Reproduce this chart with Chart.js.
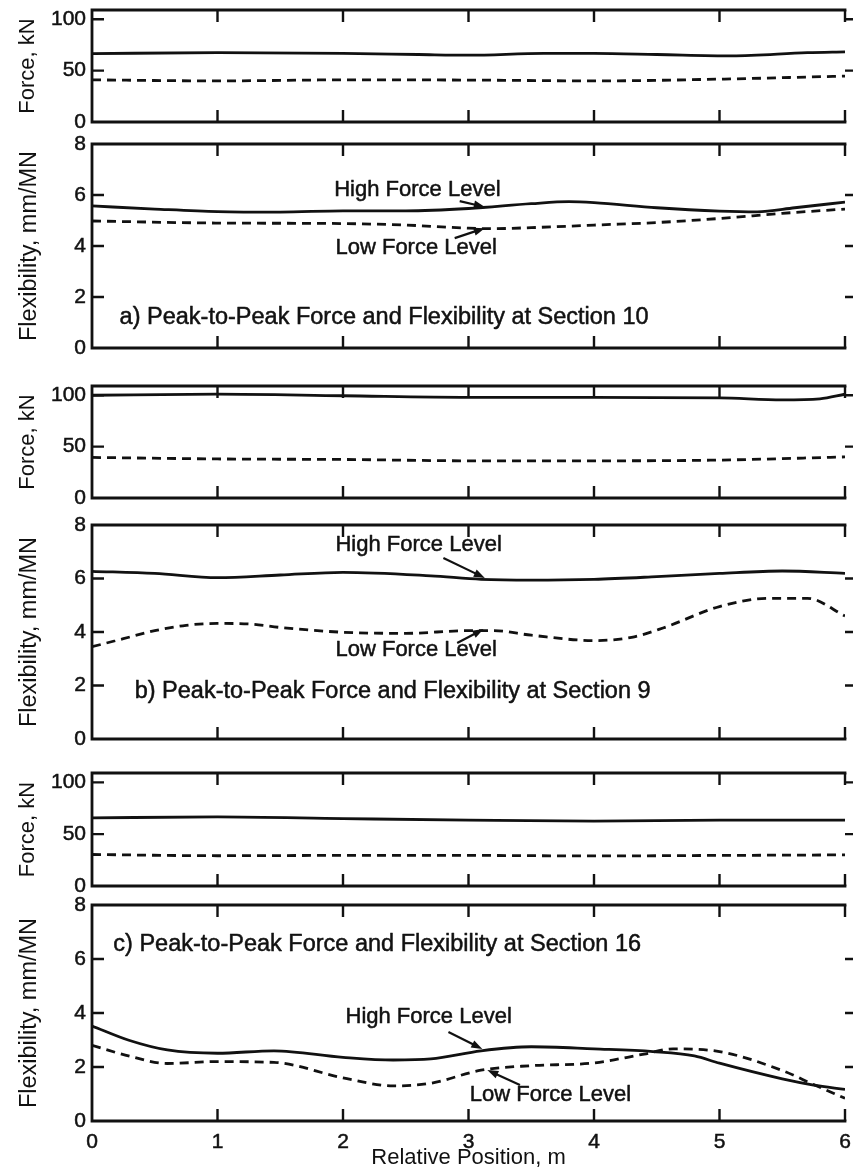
<!DOCTYPE html>
<html>
<head>
<meta charset="utf-8">
<script src="https://cdn.jsdelivr.net/npm/chart.js@4/dist/chart.umd.min.js"></script>
<style>
  html, body { margin: 0; padding: 0; background: #fff; }
  #wrap { position: relative; width: 853px; height: 1171px; overflow: hidden; background: #fff; }
  #wrap canvas { position: absolute; left: 0; }
</style>
</head>
<body>
<div id="wrap"></div>
<script>
// ---- tick values ----
const positionTicks = [0, 1, 2, 3, 4, 5, 6];
const forceTicks = [0, 50, 100];
const flexTicks = [0, 2, 4, 6, 8];

// ---- a) Section 10 ----
const posForceHighA = [0, 1, 2, 2.6, 3, 3.6, 4, 4.5, 5.1, 5.7, 6];
const forceHighA    = [66.5, 67.5, 66.8, 65.7, 65, 66.8, 66.7, 65.7, 64.4, 67.5, 68.3];
const posForceLowA  = [0, 1, 2, 3, 4, 5, 6];
const forceLowA     = [41, 40, 41, 40.8, 40, 41.7, 44.7];
const posFlexHighA  = [0, 0.5, 1, 1.5, 2, 2.5, 3, 3.5, 3.8, 4, 4.5, 5, 5.3, 5.6, 6];
const flexHighA     = [5.57, 5.45, 5.35, 5.33, 5.38, 5.38, 5.47, 5.66, 5.74, 5.7, 5.5, 5.37, 5.34, 5.5, 5.72];
const posFlexLowA   = [0, 1, 2, 2.5, 3, 3.2, 3.5, 4, 4.5, 5, 5.5, 6];
const flexLowA      = [4.98, 4.9, 4.88, 4.82, 4.7, 4.68, 4.72, 4.82, 4.92, 5.08, 5.28, 5.45];

// ---- b) Section 9 ----
const posForceHighB = [0, 1, 2, 3, 4, 5, 5.5, 5.8, 6];
const forceHighB    = [100, 101, 99.5, 98, 98, 97.5, 95.5, 96.5, 101];
const posForceLowB  = [0, 1, 2, 3, 4, 5, 6];
const forceLowB     = [39.5, 38, 37.5, 36.2, 36.2, 36.9, 40];
const posFlexHighB  = [0, 0.5, 1, 1.5, 2, 2.7, 3.1, 3.5, 4, 4.5, 5, 5.5, 6];
const flexHighB     = [6.27, 6.19, 6.03, 6.13, 6.23, 6.1, 5.97, 5.94, 5.97, 6.07, 6.19, 6.28, 6.19];
const posFlexLowB   = [0, 0.25, 0.5, 0.75, 1, 1.25, 1.5, 2, 2.5, 3, 3.2, 3.5, 4, 4.3, 4.55, 5, 5.4, 5.7, 6];
const flexLowB      = [3.45, 3.75, 4.05, 4.25, 4.32, 4.3, 4.17, 3.99, 3.95, 4.05, 4.05, 3.88, 3.68, 3.8, 4.15, 4.95, 5.26, 5.26, 4.6];

// ---- c) Section 16 ----
const posForceHighC = [0, 1, 2, 3, 4, 5, 6];
const forceHighC    = [65.7, 66.6, 65, 63.5, 62.5, 63.5, 63.5];
const posForceLowC  = [0, 1, 2, 3, 4, 5, 6];
const forceLowC     = [30.4, 29.2, 29.5, 29.5, 29, 29.5, 30];
const posFlexHighC  = [0, 0.3, 0.6, 1, 1.45, 2, 2.4, 2.7, 3.1, 3.5, 4, 4.47, 4.8, 5, 5.5, 5.75, 6];
const flexHighC     = [3.52, 2.98, 2.63, 2.51, 2.6, 2.36, 2.26, 2.3, 2.6, 2.75, 2.67, 2.57, 2.41, 2.14, 1.56, 1.33, 1.17];
const posFlexLowC   = [0, 0.3, 0.6, 1, 1.45, 2, 2.4, 2.7, 3.1, 3.5, 4, 4.4, 4.63, 5, 5.5, 5.75, 6];
const flexLowC      = [2.8, 2.4, 2.13, 2.2, 2.17, 1.6, 1.3, 1.4, 1.88, 2.05, 2.15, 2.48, 2.67, 2.57, 1.87, 1.35, 0.84];

// ---- drawing ----
const INK = '#111';
const FONT = '"Liberation Sans", Arial, Helvetica, sans-serif';
const TICK = 12;
const DASH = [9, 6];
const TEXT_STROKE = 0.5;
Chart.defaults.font.family = FONT;
Chart.defaults.color = INK;

const wrap = document.getElementById('wrap');

// Box on three sides plus inward x ticks, inward-left / outward-right y ticks
function framePlugin(yTicks) {
  return {
    id: 'frame',
    afterDatasetsDraw(chart) {
      const { ctx, chartArea: a, scales: { x, y } } = chart;
      ctx.save();
      ctx.strokeStyle = INK;
      ctx.lineWidth = 2.8;
      ctx.lineCap = 'square';
      ctx.beginPath();
      ctx.moveTo(a.right, a.top);
      ctx.lineTo(a.left, a.top);
      ctx.lineTo(a.left, a.bottom);
      ctx.lineTo(a.right, a.bottom);
      ctx.stroke();
      ctx.lineWidth = 2.4;
      ctx.lineCap = 'butt';
      ctx.beginPath();
      positionTicks.forEach(v => {
        if (v <= x.min) return;
        const px = x.getPixelForValue(v);
        ctx.moveTo(px, a.top); ctx.lineTo(px, a.top + TICK);
        ctx.moveTo(px, a.bottom); ctx.lineTo(px, a.bottom - TICK);
      });
      yTicks.forEach(v => {
        if (v <= y.min || v >= y.max) return;
        const py = y.getPixelForValue(v);
        ctx.moveTo(a.left, py); ctx.lineTo(a.left + TICK, py);
        ctx.moveTo(a.right, py); ctx.lineTo(a.right + TICK, py);
      });
      ctx.stroke();
      ctx.restore();
    }
  };
}

// Captions and leader arrows placed in data coordinates
function notesPlugin(notes) {
  return {
    id: 'notes',
    afterDatasetsDraw(chart) {
      if (!notes) return;
      const { ctx, scales: { x, y } } = chart;
      ctx.save();
      ctx.fillStyle = INK;
      ctx.strokeStyle = INK;
      ctx.textAlign = 'left';
      ctx.textBaseline = 'middle';
      ctx.lineJoin = 'round';
      (notes.texts || []).forEach(t => {
        ctx.font = `${t.size || 22}px ${FONT}`;
        const px = x.getPixelForValue(t.x), py = y.getPixelForValue(t.y);
        ctx.lineWidth = TEXT_STROKE;
        ctx.strokeText(t.text, px, py);
        ctx.fillText(t.text, px, py);
      });
      (notes.arrows || []).forEach(([x0, y0, x1, y1]) => {
        const ax = x.getPixelForValue(x0), ay = y.getPixelForValue(y0);
        const bx = x.getPixelForValue(x1), by = y.getPixelForValue(y1);
        const ang = Math.atan2(by - ay, bx - ax);
        const c = Math.cos(ang), s = Math.sin(ang);
        const head = 11, half = 4;
        ctx.lineWidth = 2.2;
        ctx.beginPath();
        ctx.moveTo(ax, ay);
        ctx.lineTo(bx - head * 0.8 * c, by - head * 0.8 * s);
        ctx.stroke();
        ctx.beginPath();
        ctx.moveTo(bx, by);
        ctx.lineTo(bx - head * c + half * s, by - head * s - half * c);
        ctx.lineTo(bx - head * c - half * s, by - head * s + half * c);
        ctx.closePath();
        ctx.fill();
      });
      ctx.restore();
    }
  };
}

function series(xs, ys, dashed) {
  return {
    data: xs.map((v, i) => ({ x: v, y: ys[i] })),
    borderColor: INK,
    borderWidth: 2.8,
    borderDash: dashed ? DASH : [],
    pointRadius: 0,
    cubicInterpolationMode: 'monotone',
    fill: false
  };
}

function panel(p) {
  const padTop = 16;
  const top = p.top - padTop;
  const bottomSpace = p.xAxis ? 1171 - p.bottom : 16;
  const height = (p.bottom - p.top) + padTop + bottomSpace;
  const canvas = document.createElement('canvas');
  canvas.width = 853;
  canvas.height = height;
  canvas.style.top = top + 'px';
  wrap.appendChild(canvas);

  new Chart(canvas, {
    type: 'line',
    data: { datasets: p.series },
    options: {
      responsive: false,
      animation: false,
      devicePixelRatio: 1,
      layout: { padding: { top: padTop, bottom: p.xAxis ? 0 : bottomSpace, left: 0, right: 8 } },
      plugins: { legend: { display: false }, tooltip: { enabled: false } },
      scales: {
        x: {
          type: 'linear', min: 0, max: 6,
          grid: { display: false, drawTicks: false }, border: { display: false },
          ticks: { display: !!p.xAxis, font: { size: 21 }, padding: 9, color: INK, maxRotation: 0,
                   textStrokeColor: INK, textStrokeWidth: TEXT_STROKE },
          afterBuildTicks: s => { s.ticks = positionTicks.map(v => ({ value: v })); },
          title: { display: !!p.xAxis, text: 'Relative Position, m', font: { size: 22 }, color: INK, padding: { top: 0, bottom: 0 } },
          afterFit: s => { s.height = p.xAxis ? bottomSpace : 0; s.paddingLeft = 0; s.paddingRight = 0; }
        },
        y: {
          type: 'linear', min: 0, max: p.yMax,
          grid: { display: false, drawTicks: false }, border: { display: false },
          ticks: { font: { size: 21 }, padding: 6, color: INK,
                   textStrokeColor: INK, textStrokeWidth: TEXT_STROKE },
          afterBuildTicks: s => { s.ticks = p.yTicks.map(v => ({ value: v })); },
          title: { display: true, text: p.yTitle, font: { size: p.yTitleSize }, color: INK, padding: { top: 15, bottom: 0 } },
          afterFit: s => { s.width = 92; s.paddingTop = 0; s.paddingBottom = 0; }
        }
      }
    },
    plugins: [framePlugin(p.yTicks), notesPlugin(p.notes)]
  });
}

const FORCE_TITLE = 'Force, kN';
const FLEX_TITLE = 'Flexibility, mm/MN';
const HIGH = 'High Force Level';
const LOW = 'Low Force Level';
const CAPTION = 23.5;

panel({ top: 10, bottom: 122, yMax: 109, yTicks: forceTicks, yTitle: FORCE_TITLE, yTitleSize: 22,
  series: [series(posForceHighA, forceHighA, false), series(posForceLowA, forceLowA, true)] });

panel({ top: 144, bottom: 348, yMax: 8, yTicks: flexTicks, yTitle: FLEX_TITLE, yTitleSize: 23.5,
  series: [series(posFlexHighA, flexHighA, false), series(posFlexLowA, flexLowA, true)],
  notes: {
    texts: [
      { text: HIGH, x: 1.93, y: 6.2 },
      { text: LOW, x: 1.94, y: 3.92 },
      { text: 'a) Peak-to-Peak Force and Flexibility at Section 10', x: 0.22, y: 1.18, size: CAPTION }
    ],
    arrows: [[2.93, 5.76, 3.13, 5.53], [2.89, 4.31, 3.13, 4.7]]
  } });

panel({ top: 386, bottom: 498, yMax: 109, yTicks: forceTicks, yTitle: FORCE_TITLE, yTitleSize: 22,
  series: [series(posForceHighB, forceHighB, false), series(posForceLowB, forceLowB, true)] });

panel({ top: 525, bottom: 739, yMax: 8, yTicks: flexTicks, yTitle: FLEX_TITLE, yTitleSize: 23.5,
  series: [series(posFlexHighB, flexHighB, false), series(posFlexLowB, flexLowB, true)],
  notes: {
    texts: [
      { text: HIGH, x: 1.94, y: 7.25 },
      { text: LOW, x: 1.94, y: 3.33 },
      { text: 'b) Peak-to-Peak Force and Flexibility at Section 9', x: 0.34, y: 1.76, size: CAPTION }
    ],
    arrows: [[2.8, 6.77, 3.13, 6.02], [2.91, 3.59, 3.12, 4.11]]
  } });

panel({ top: 773, bottom: 886, yMax: 109, yTicks: forceTicks, yTitle: FORCE_TITLE, yTitleSize: 22,
  series: [series(posForceHighC, forceHighC, false), series(posForceLowC, forceLowC, true)] });

panel({ top: 905, bottom: 1121, yMax: 8, yTicks: flexTicks, yTitle: FLEX_TITLE, yTitleSize: 23.5, xAxis: true,
  series: [series(posFlexHighC, flexHighC, false), series(posFlexLowC, flexLowC, true)],
  notes: {
    texts: [
      { text: 'c) Peak-to-Peak Force and Flexibility at Section 16', x: 0.17, y: 6.52, size: CAPTION },
      { text: HIGH, x: 2.02, y: 3.85 },
      { text: LOW, x: 3.01, y: 0.96 }
    ],
    arrows: [[2.84, 3.3, 3.11, 2.67], [3.41, 1.33, 3.15, 1.89]]
  } });
</script>
</body>
</html>
